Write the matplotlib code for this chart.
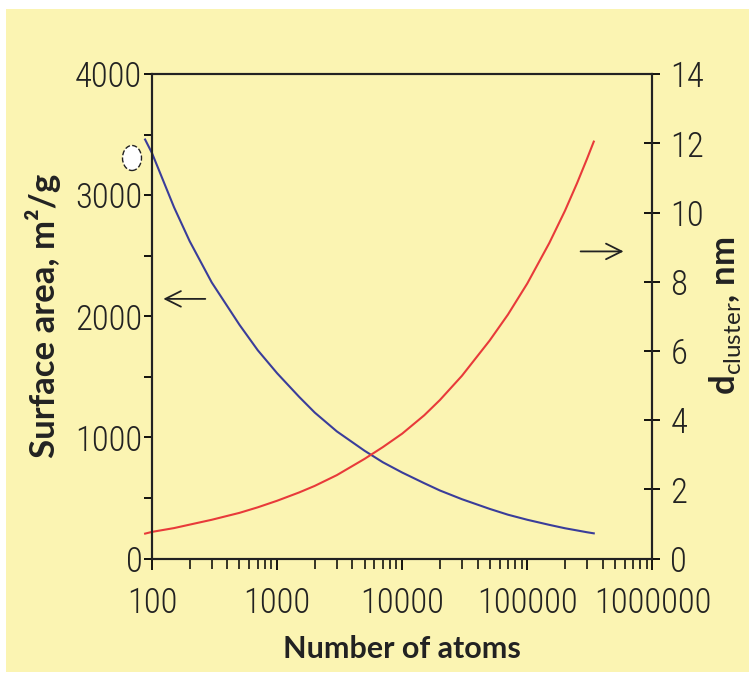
import matplotlib.pyplot as plt
from matplotlib.patches import Rectangle, Ellipse
from matplotlib.ticker import NullFormatter

plt.rcParams['mathtext.fontset'] = 'custom'
plt.rcParams['mathtext.rm'] = 'Lato'
plt.rcParams['mathtext.bf'] = 'Lato:bold'

# Data
atoms = [88, 100, 150, 200, 300, 500, 700, 1000, 1500, 2000, 3000, 5000, 7000,
         10000, 15000, 20000, 30000, 50000, 70000, 100000, 150000, 200000,
         250000, 300000, 340000]
surface = [3460, 3347, 2900, 2620, 2280, 1930, 1720, 1530, 1335, 1205, 1050,
           890, 795, 710, 622, 562, 490, 410, 362, 320, 278, 250, 232, 217, 208]
d_cluster = [0.72, 0.77, 0.88, 0.98, 1.12, 1.32, 1.48, 1.67, 1.91, 2.10, 2.41,
             2.88, 3.22, 3.61, 4.14, 4.58, 5.28, 6.30, 7.05, 7.95, 9.12, 10.05,
             10.85, 11.55, 12.05]

x_ticks = [100, 1000, 10000, 100000, 1000000]
left_ticks = [0, 500, 1000, 1500, 2000, 2500, 3000, 3500, 4000]
right_ticks = [0, 2, 4, 6, 8, 10, 12, 14]

bg = '#fbf4b2'
ink = '#222222'
tick_font = ['Open Sans Condensed Light', 'Roboto Condensed', 'PT Sans Narrow',
             'Archivo Narrow', 'Fira Sans Condensed', 'Open Sans Condensed', 'DejaVu Sans']

fig = plt.figure(figsize=(7.49, 6.77), dpi=100, facecolor='white')
fig.patches.append(Rectangle((0.008, 0.007), 0.992, 0.980, transform=fig.transFigure,
                             facecolor=bg, edgecolor='none', zorder=-10))

ax = fig.add_axes([0.203, 0.175, 0.668, 0.7155])
ax.set_facecolor(bg)
ax2 = ax.twinx()

ax.plot(atoms, surface, color='#3a3d9a', lw=1.5, clip_on=False)
ax2.plot(atoms, d_cluster, color='#e83a3a', lw=1.5, clip_on=False)

ax.set_xscale('log')
ax.set_xlim(100, 1000000)
ax.set_ylim(0, 4000)
ax2.set_ylim(0, 14)

ax.set_xticks(x_ticks)
ax.set_xticklabels([str(t) for t in x_ticks])
ax.xaxis.set_minor_formatter(NullFormatter())
ax.set_yticks(left_ticks)
ax.set_yticklabels([str(t) if t % 1000 == 0 else '' for t in left_ticks])
ax2.set_yticks(right_ticks)
ax2.set_yticklabels([str(t) for t in right_ticks])

for a in (ax, ax2):
    for s in a.spines.values():
        s.set_linewidth(1.5)
        s.set_color(ink)

ax.tick_params(axis='x', which='major', direction='out', length=8, width=1.3, pad=12)
ax.tick_params(axis='x', which='minor', direction='out', length=7, width=1.1)
ax.tick_params(axis='y', direction='out', length=6, width=1.3, pad=1)
ax2.tick_params(axis='y', direction='inout', length=12, width=1.3, pad=7)
for lbl in ax.get_xticklabels() + ax.get_yticklabels() + ax2.get_yticklabels():
    lbl.set_family(tick_font)
    lbl.set_fontweight(300)
    lbl.set_fontsize(25)
    lbl.set_color(ink)

ax.set_xlabel('Number of atoms', fontsize=22, fontweight='bold', family='Lato',
              labelpad=11, color=ink)
ax.set_ylabel('Surface area, m²/g', fontsize=25, fontweight='bold', family='Lato',
              labelpad=10, color=ink)
ax2.set_ylabel(r'$\mathbf{d}_{\mathrm{cluster}}$, nm', fontsize=25, fontweight='bold',
               family='Lato', rotation=90, labelpad=2, color=ink)

# arrows pointing to the axis each curve belongs to
ax.annotate('', xy=(0.017, 0.536), xytext=(0.112, 0.536), xycoords='axes fraction',
            arrowprops=dict(arrowstyle='->', color=ink, lw=1.3, mutation_scale=28))
ax.annotate('', xy=(0.948, 0.634), xytext=(0.851, 0.634), xycoords='axes fraction',
            arrowprops=dict(arrowstyle='->', color=ink, lw=1.3, mutation_scale=28))

# small white blob near the top of the left axis
fig.patches.append(Ellipse((132 / 749, 1 - 158 / 677), 19 / 749, 25 / 677,
                           transform=fig.transFigure, facecolor='white',
                           edgecolor=ink, ls='--', lw=1, zorder=5))

plt.savefig('out.png', dpi=100, facecolor=fig.get_facecolor())
